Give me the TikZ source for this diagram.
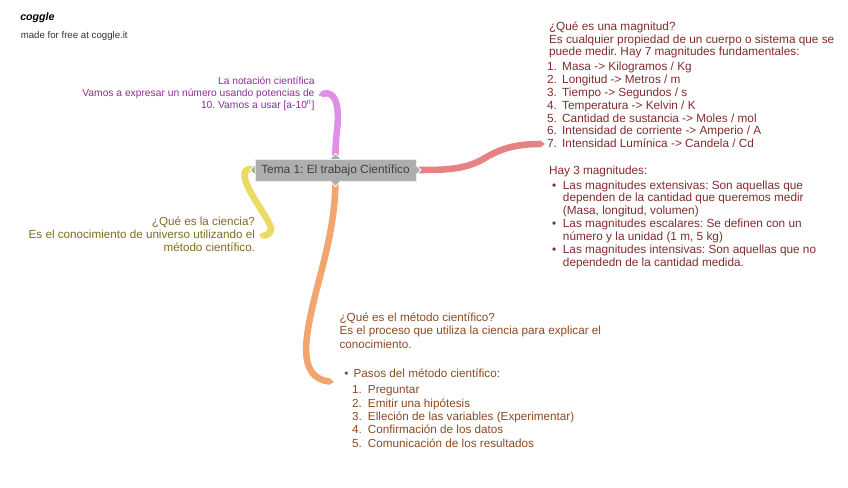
\documentclass[tikz,border=0pt]{standalone}
\usepackage{fontspec}
\setmainfont{Liberation Sans}
\usetikzlibrary{arrows.meta}
\definecolor{colpink}{HTML}{E08FE8}
\definecolor{colyellow}{HTML}{EDDA62}
\definecolor{colorange}{HTML}{F2A56F}
\definecolor{colred}{HTML}{E78282}
\definecolor{colbox}{HTML}{AEAEAE}
\definecolor{txtpurple}{HTML}{8A2F92}
\definecolor{txtolive}{HTML}{7F6D1E}
\definecolor{txtbrown}{HTML}{8A4A22}
\definecolor{txtred}{HTML}{812C2C}
\newcommand{\lab}[2][13.4pt]{\makebox[#1][l]{#2}}
\tikzset{
  blocktext/.style={inner sep=3pt,outer sep=0pt,align=left,font=\fontsize{8.85}{9.65}\selectfont\frenchspacing},
  blockright/.style={blocktext,align=right},
  branch/.style={line width=4.9pt,-{Triangle[length=3.5pt,width=4.9pt]}},
  notch/.style={fill=#1,draw=white,line width=0.6pt}
}
\begin{document}
\begin{tikzpicture}[x=0.75pt,y=0.75pt,yscale=-1,xscale=1]
\useasboundingbox (0,0) rectangle (848,488);

% logo
\node (logo) [anchor=west,inner sep=0pt,font=\fontsize{8}{10}\itshape\bfseries\selectfont,text=black] at (20,18) {coggle};
\node (free) [anchor=west,inner sep=0pt,font=\fontsize{7.25}{9}\selectfont\frenchspacing,text=black!80] at (20.5,36) {made for free at coggle.it};

% central topic
\node (tema) [fill=colbox,draw=black!8,line width=0.4pt,minimum width=120.75pt,minimum height=16.5pt,inner sep=0pt,font=\fontsize{8.9}{10}\selectfont\frenchspacing,text=black!75] at (335.5,170) {Tema 1: El trabajo Científico};

% text blocks
\node (notacion) [blockright,anchor=east,text=txtpurple,font=\fontsize{7.7}{9}\selectfont\frenchspacing] at (318.5,93.5) {La notación científica\\Vamos a expresar un número usando potencias de\\10. Vamos a usar [a-10\textsuperscript{n}]};
\node (ciencia) [blockright,anchor=east,text=txtolive,font=\fontsize{8.75}{9.9}\selectfont\frenchspacing] at (259,234.5) {¿Qué es la ciencia?\\Es el conocimiento de universo utilizando el\\método científico.};
\node (metodo) [blocktext,anchor=north west,text=txtbrown,font=\fontsize{8.78}{10.1}\selectfont\frenchspacing] at (335.5,308.5) {¿Qué es el método científico?\\Es el proceso que utiliza la ciencia para explicar el\\conocimiento.};
\node (pasos) [blocktext,anchor=north west,text=txtbrown,font=\fontsize{8.78}{10.1}\selectfont\frenchspacing] at (337,365) {\lab[9.5pt]{\ \textbullet}Pasos del método científico:};
\node (lista) [blocktext,anchor=north west,text=txtbrown,font=\fontsize{8.78}{10.1}\selectfont\frenchspacing] at (348,381.5) {\lab[12pt]{1.}Preguntar\\\lab[12pt]{2.}Emitir una hipótesis\\\lab[12pt]{3.}Elleción de las variables (Experimentar)\\\lab[12pt]{4.}Confirmación de los datos\\\lab[12pt]{5.}Comunicación de los resultados};
\node (magnitud) [blocktext,anchor=north west,text=txtred] at (545,17.5) {¿Qué es una magnitud?\\Es cualquier propiedad de un cuerpo o sistema que se\\puede medir. Hay 7 magnitudes fundamentales:};
\node (fundamentales) [blocktext,anchor=north west,text=txtred] at (543,58) {\lab[11.4pt]{1.}Masa -> Kilogramos / Kg\\\lab[11.4pt]{2.}Longitud -> Metros / m\\\lab[11.4pt]{3.}Tiempo -> Segundos / s\\\lab[11.4pt]{4.}Temperatura -> Kelvin / K\\\lab[11.4pt]{5.}Cantidad de sustancia -> Moles / mol\\\lab[11.4pt]{6.}Intensidad de corriente -> Amperio / A\\\lab[11.4pt]{7.}Intensidad Lumínica -> Candela / Cd};
\node (hay) [blocktext,anchor=north west,text=txtred] at (545,161.5) {Hay 3 magnitudes:};
\node (tipos) [blocktext,anchor=north west,text=txtred] at (548,176.5) {\lab[8.2pt]{\textbullet}Las magnitudes extensivas: Son aquellas que\\\lab[8.2pt]{}dependen de la cantidad que queremos medir\\\lab[8.2pt]{}(Masa, longitud, volumen)\\\lab[8.2pt]{\textbullet}Las magnitudes escalares: Se definen con un\\\lab[8.2pt]{}número y la unidad (1 m, 5 kg)\\\lab[8.2pt]{\textbullet}Las magnitudes intensivas: Son aquellas que no\\\lab[8.2pt]{}dependedn de la cantidad medida.};

% free ends
\coordinate (finrojo) at (545,144);
\coordinate (finnaranja) at (334,382);

% branches
\draw [branch,colpink] (tema.north) .. controls (335,135) and (339,127) .. (337.5,110) .. controls (336.5,98) and (331,91) .. ([yshift=1.5pt]notacion.east);
\draw [branch,colyellow] (tema.west) .. controls (245,167) and (241,172) .. (248,187) .. controls (255,202) and (268,218) .. (271,228) .. controls (272,234) and (265,236) .. (ciencia.east);
\draw [branch,colorange] (tema.south) .. controls (335,225) and (324,260) .. (314,300) .. controls (306,335) and (296,378) .. (finnaranja);
\draw [branch,colred] (tema.east) .. controls (445,170) and (465,170) .. (485,158) .. controls (503,147) and (520,144) .. (finrojo);

% notches on the box
\draw [notch=colbox] (330,159) -- (335.5,153.5) -- (341,159);
\draw [notch=colbox] (330,181) -- (335.5,186.5) -- (341,181);
\draw [notch=colbox] (255,165) -- (250,170) -- (255,175);
\draw [notch=colbox] (416,165) -- (421,170) -- (416,175);
\end{tikzpicture}
\end{document}
